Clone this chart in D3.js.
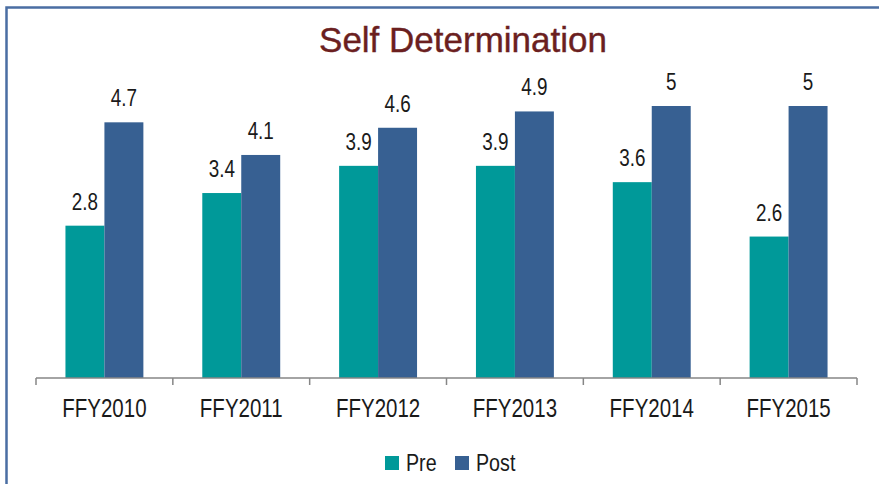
<!DOCTYPE html>
<html>
    <head>
        <style>
            body {
                margin: 0;
                padding: 0;
                background: #fff;
            }
            svg text {
                font-family: "Liberation Sans", Arial, sans-serif;
            }
        </style>
    </head>
    <body>
        <script src="https://d3js.org/d3.v7.min.js"></script>
        <script>
            const years = ["FFY2010", "FFY2011", "FFY2012", "FFY2013", "FFY2014", "FFY2015"];
            const seriesNames = ["Pre", "Post"];
            const preValues = [2.8, 3.4, 3.9, 3.9, 3.6, 2.6];
            const postValues = [4.7, 4.1, 4.6, 4.9, 5, 5];
            const colors = ["#009999", "#376092"];

            const W = 879, H = 484;
            const NARROW = 0.82; // no narrow font installed, squeeze a regular one

            const svg = d3.select("body")
            .append("svg")
            .attr("width", W)
            .attr("height", H);

            // frame of the chart area (runs past the right and bottom edges)
            svg.append("rect")
            .attr("x", 6.5)
            .attr("y", 7.5)
            .attr("width", 900)
            .attr("height", 500)
            .attr("fill", "none")
            .attr("stroke", "#4a6ea3")
            .attr("stroke-width", 2.5);

            svg.append("text")
            .attr("x", 463)
            .attr("y", 52)
            .attr("text-anchor", "middle")
            .style("font-size", "35px")
            .attr("fill", "#6b1f1f")
            .attr("stroke", "#6b1f1f")
            .attr("stroke-width", 0.4)
            .text("Self Determination");

            const rows = years.map((y, i) => ({year: y, values: [preValues[i], postValues[i]]}));

            const x = d3.scaleBand()
            .domain(years)
            .range([36, 857]);

            const xInner = d3.scaleBand()
            .domain(seriesNames)
            .range([0, x.bandwidth()])
            .paddingOuter(0.756);

            const y = d3.scaleLinear()
            .domain([0, 6])
            .range([378, 51.6]);

            const groups = svg.selectAll("g.year")
            .data(rows)
            .enter()
            .append("g")
            .attr("class", "year")
            .attr("transform", d => `translate(${x(d.year)},0)`);

            groups.selectAll("rect")
            .data(d => d.values.map((v, i) => ({name: seriesNames[i], value: v, color: colors[i]})))
            .enter()
            .append("rect")
            .attr("x", d => xInner(d.name))
            .attr("y", d => y(d.value))
            .attr("width", xInner.bandwidth())
            .attr("height", d => y(0) - y(d.value))
            .attr("fill", d => d.color);

            groups.selectAll("text")
            .data(d => d.values.map((v, i) => ({name: seriesNames[i], value: v})))
            .enter()
            .append("text")
            .attr("transform", d => `translate(${xInner(d.name) + xInner.bandwidth() / 2},${y(d.value) - 16}) scale(${NARROW},1)`)
            .attr("text-anchor", "middle")
            .style("font-size", "23px")
            .attr("fill", "#1a1a1a")
            .text(d => d.value);

            // x axis with ticks between categories
            const axis = svg.append("g").attr("class", "x-axis");
            axis.append("line")
            .attr("x1", 36).attr("x2", 857)
            .attr("y1", 378).attr("y2", 378)
            .attr("stroke", "#868686")
            .attr("stroke-width", 1.5);

            const edges = years.map(d => x(d)).concat([x(years[years.length - 1]) + x.bandwidth()]);
            axis.selectAll("line.tick")
            .data(edges)
            .enter()
            .append("line")
            .attr("class", "tick")
            .attr("x1", d => d).attr("x2", d => d)
            .attr("y1", 378).attr("y2", 385)
            .attr("stroke", "#868686")
            .attr("stroke-width", 1.5);

            axis.selectAll("text")
            .data(years)
            .enter()
            .append("text")
            .attr("transform", d => `translate(${x(d) + x.bandwidth() / 2},417) scale(${NARROW},1)`)
            .attr("text-anchor", "middle")
            .style("font-size", "25px")
            .attr("fill", "#1a1a1a")
            .text(d => d);

            // legend
            const legendX = [385, 455];
            const legend = svg.append("g").attr("id", "legend");
            legend.selectAll("rect")
            .data(seriesNames)
            .enter()
            .append("rect")
            .attr("x", (d, i) => legendX[i])
            .attr("y", 456)
            .attr("width", 14)
            .attr("height", 14)
            .attr("fill", (d, i) => colors[i]);

            legend.selectAll("text")
            .data(seriesNames)
            .enter()
            .append("text")
            .attr("transform", (d, i) => `translate(${legendX[i] + 21},471) scale(${NARROW},1)`)
            .style("font-size", "24px")
            .attr("fill", "#1a1a1a")
            .text(d => d);
        </script>
    </body>
</html>
